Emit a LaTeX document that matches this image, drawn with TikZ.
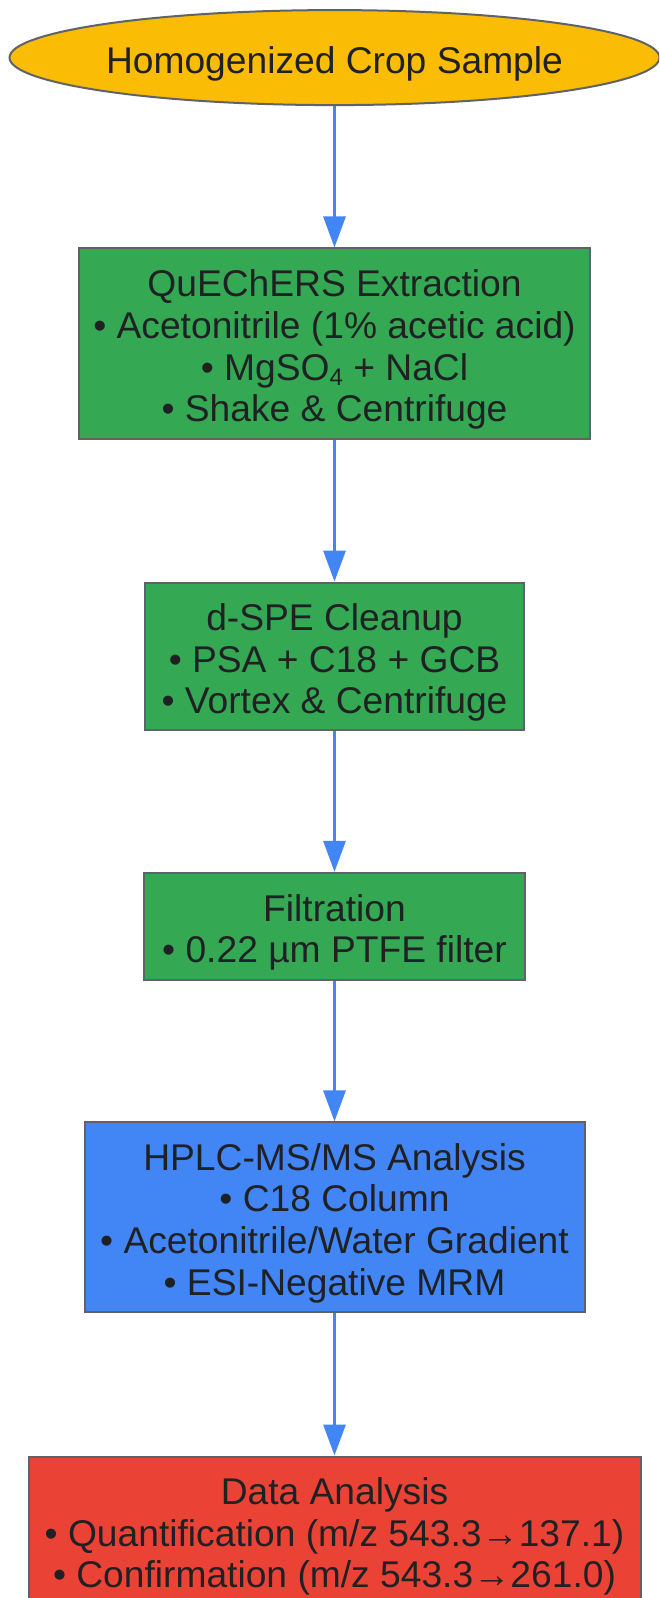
\documentclass[tikz,border=0pt]{standalone}
\usepackage{fontspec}
\setmainfont{Liberation Sans}
\usetikzlibrary{shapes.geometric,arrows.meta}
\definecolor{gyellow}{HTML}{FBBC05}
\definecolor{ggreen}{HTML}{34A853}
\definecolor{gblue}{HTML}{4285F4}
\definecolor{gred}{HTML}{EA4335}
\definecolor{edgegray}{HTML}{5F6368}
\definecolor{inkdark}{HTML}{202124}
\newcommand{\labelsize}{\fontsize{18.6}{20.85}\selectfont}
\newcommand{\subfour}{\raisebox{-0.25ex}{\fontsize{12}{12}\selectfont 4}}
\newcommand{\lift}{\rule{0pt}{19.5pt}}

\begin{document}
\begin{tikzpicture}[x=0.5pt,y=-0.5pt,
	label text/.style={font=\labelsize, text=inkdark, align=center},
	stage/.style={label text, draw=edgegray, line width=1pt, rectangle, inner sep=0pt},
	flow/.style={draw=gblue, line width=1.5pt, -{Triangle[width=11pt,length=15.5pt]}}]

	\useasboundingbox (0,0) rectangle (659,1598);
	\clip (0,0) rectangle (659,1598);

	\node[label text, ellipse, draw=edgegray, line width=1pt, fill=gyellow, inner sep=0pt, minimum width=325pt, minimum height=47.5pt] (sample) at (334.5,57.6) {\lift Homogenized Crop Sample};
	\node[stage, fill=ggreen, minimum width=255.7pt, minimum height=95.3pt] (extract) at (334.5,343.8) {\lift QuEChERS Extraction\\• Acetonitrile (1\% acetic acid)\\• MgSO\subfour{} + NaCl\\• Shake \& Centrifuge};
	\node[stage, fill=ggreen, minimum width=189.5pt, minimum height=73.9pt] (cleanup) at (334.5,656.5) {\lift d-SPE Cleanup\\• PSA + C18 + GCB\\• Vortex \& Centrifuge};
	\node[stage, fill=ggreen, minimum width=190.5pt, minimum height=53.5pt] (filter) at (334.5,926.4) {\lift Filtration\\• 0.22 µm PTFE filter};
	\node[stage, fill=gblue, minimum width=250pt, minimum height=94.7pt] (hplc) at (334.5,1217.1) {\lift HPLC-MS/MS Analysis\\• C18 Column\\• Acetonitrile/Water Gradient\\• ESI-Negative MRM};
	\node[stage, fill=gred, minimum width=306pt, minimum height=74pt] (data) at (334.5,1530.5) {\lift Data Analysis\\• Quantification (m/z 543.3→137.1)\\• Confirmation (m/z 543.3→261.0)};

	\foreach \a/\b in {sample/extract,extract/cleanup,cleanup/filter,filter/hplc,hplc/data}
	{
		\draw[flow] (\a) -- (\b);
	}

\end{tikzpicture}
\end{document}
